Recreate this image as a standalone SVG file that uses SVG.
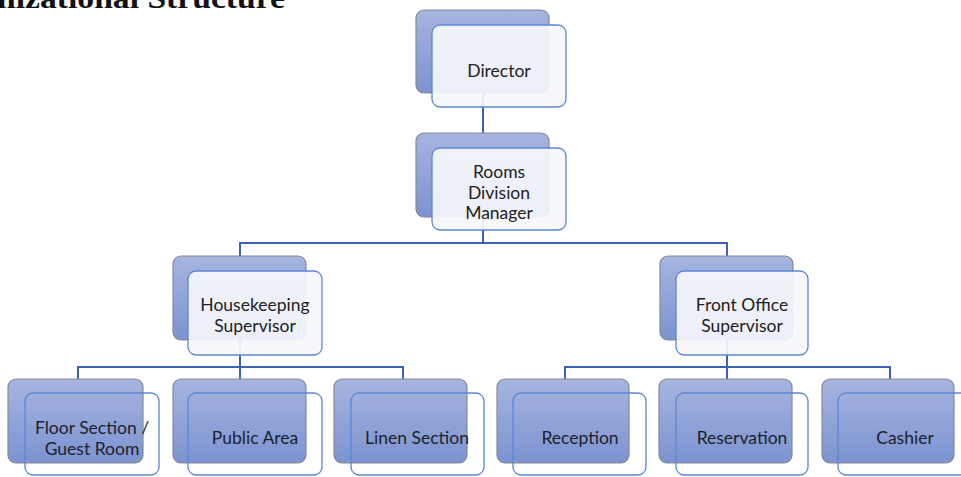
<svg xmlns="http://www.w3.org/2000/svg" width="961" height="477" viewBox="0 0 961 477">
<defs>
<linearGradient id="bg" x1="0" y1="0" x2="0" y2="1">
<stop offset="0" stop-color="#a6b5df"/>
<stop offset="1" stop-color="#7c93d1"/>
</linearGradient>
<style>
.back{fill:url(#bg);stroke:#858a94;stroke-width:1.2}
.front{fill:#f6f7fc;fill-opacity:0.92;stroke:#5b86d4;stroke-width:1.3}
.frontb{fill:none;stroke:#5b86d4;stroke-width:1.3}
.lbl{font-family:Lato,"Open Sans",sans-serif;font-size:17.5px;fill:#222;text-anchor:middle}
.lblb{font-family:Lato,"Open Sans",sans-serif;font-size:17.5px;fill:#1c1f2b;text-anchor:middle}
.conn{fill:none;stroke:#3c63b2;stroke-width:2}
.title{font-family:"Liberation Serif",serif;font-weight:bold;font-size:30px;fill:#111}
</style>
</defs>
<rect width="961" height="477" fill="#ffffff"/>
<text class="title" x="-3" y="8" textLength="288" lengthAdjust="spacingAndGlyphs">nizational Structure</text>
<g id="connectors">
<path class="conn" d="M483 93V133"/>
<path class="conn" d="M483 217V243M240 256V243H727V256"/>
<path class="conn" d="M240 340V367M78 379V367H403V379M240 367V379"/>
<path class="conn" d="M727 340V367M565 379V367H890V379M727 367V379"/>
</g>
<g id="director">
<rect class="back" x="416" y="10" width="133" height="83" rx="8"/>
<rect class="front" x="432" y="25" width="134" height="82" rx="8"/>
<text class="lbl" x="499" y="77">Director</text>
</g>
<g id="rooms-division-manager">
<rect class="back" x="416" y="133" width="133" height="84" rx="8"/>
<rect class="front" x="432" y="148" width="134" height="82" rx="8"/>
<text class="lbl" x="499" y="178">Rooms</text>
<text class="lbl" x="499" y="199">Division</text>
<text class="lbl" x="499" y="219">Manager</text>
</g>
<g id="housekeeping-supervisor">
<rect class="back" x="173" y="256" width="133" height="84" rx="8"/>
<rect class="front" x="188" y="271" width="134" height="84" rx="8"/>
<text class="lbl" x="255" y="311">Housekeeping</text>
<text class="lbl" x="255" y="332">Supervisor</text>
</g>
<g id="front-office-supervisor">
<rect class="back" x="660" y="256" width="133" height="84" rx="8"/>
<rect class="front" x="676" y="271" width="132" height="84" rx="8"/>
<text class="lbl" x="742" y="311">Front Office</text>
<text class="lbl" x="742" y="332">Supervisor</text>
</g>
<g id="floor-section">
<rect class="back" x="8" y="379" width="135" height="84" rx="8"/>
<rect class="frontb" x="25" y="393" width="134" height="82" rx="8"/>
<text class="lblb" x="92" y="434">Floor Section /</text>
<text class="lblb" x="92" y="455">Guest Room</text>
</g>
<g id="public-area">
<rect class="back" x="173" y="379" width="133" height="84" rx="8"/>
<rect class="frontb" x="188" y="393" width="134" height="82" rx="8"/>
<text class="lblb" x="255" y="444">Public Area</text>
</g>
<g id="linen-section">
<rect class="back" x="334" y="379" width="133" height="84" rx="8"/>
<rect class="frontb" x="351" y="393" width="133" height="82" rx="8"/>
<text class="lblb" x="417" y="444">Linen Section</text>
</g>
<g id="reception">
<rect class="back" x="497" y="379" width="132" height="84" rx="8"/>
<rect class="frontb" x="513" y="393" width="133" height="82" rx="8"/>
<text class="lblb" x="580" y="444">Reception</text>
</g>
<g id="reservation">
<rect class="back" x="659" y="379" width="133" height="84" rx="8"/>
<rect class="frontb" x="676" y="393" width="132" height="82" rx="8"/>
<text class="lblb" x="742" y="444">Reservation</text>
</g>
<g id="cashier">
<rect class="back" x="822" y="379" width="132" height="84" rx="8"/>
<rect class="frontb" x="838" y="393" width="133" height="82" rx="8"/>
<text class="lblb" x="905" y="444">Cashier</text>
</g>
</svg>
